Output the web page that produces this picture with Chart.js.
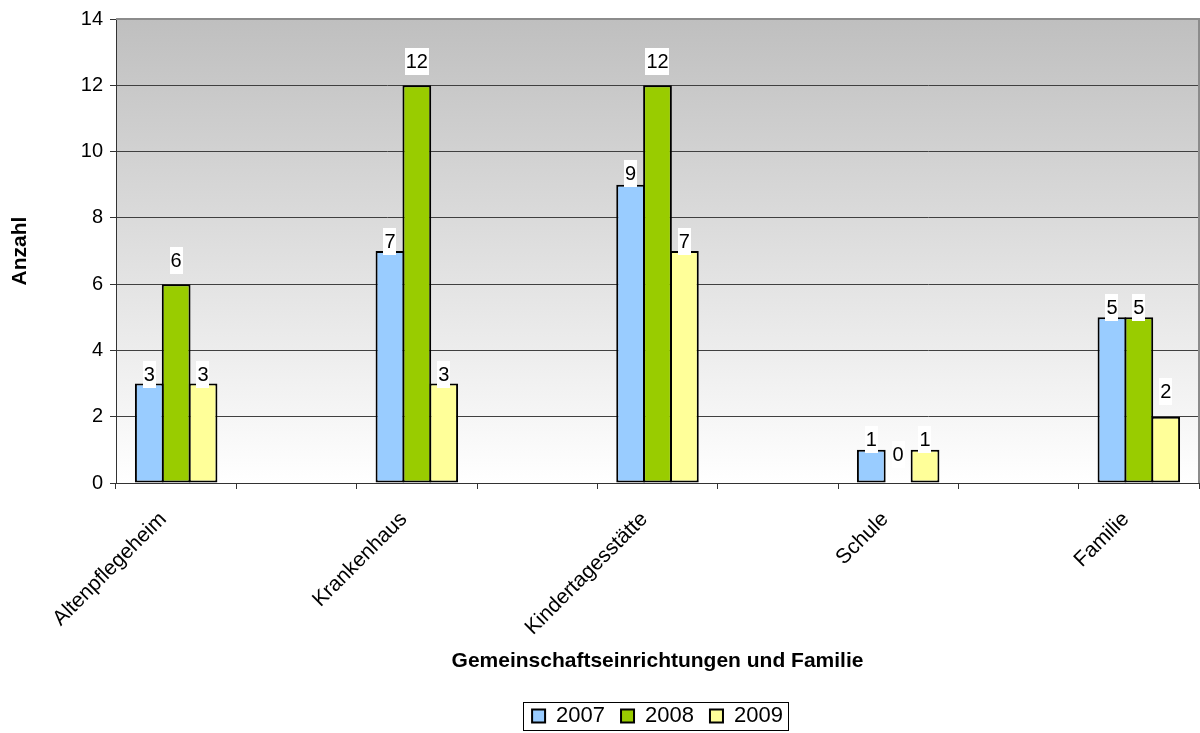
<!DOCTYPE html>
<html>
<head>
<meta charset="utf-8">
<script src="https://cdn.jsdelivr.net/npm/chart.js@4/dist/chart.umd.min.js"></script>
<style>
  html, body { margin: 0; padding: 0; background: #ffffff; }
  #wrap { width: 1200px; height: 733px; position: relative; }
</style>
</head>
<body>
<div id="wrap"><canvas id="c" width="1200" height="733"></canvas></div>
<script>
// Categories (empty slots keep the wide spacing between groups)
const categories = ['Altenpflegeheim', '', 'Krankenhaus', '', 'Kindertagesstätte', '', 'Schule', '', 'Familie'];

// Counts per year
const values2007 = [3, null, 7, null, 9, null, 1, null, 5];
const values2008 = [6, null, 12, null, 12, null, 0, null, 5];
const values2009 = [3, null, 3, null, 7, null, 1, null, 2];

const seriesNames = ['2007', '2008', '2009'];
const yTicks = [0, 2, 4, 6, 8, 10, 12, 14];

const FONT = "'Liberation Sans', Arial, Helvetica, sans-serif";
const AREA_TOP = 18, AREA_BOTTOM = 483, AREA_LEFT = 116;
const LEGEND_FONT = 22, LEGEND_PAD = 16, PAD_BOTTOM = -4;
// legend box height as Chart.js computes it for a single row
const LEGEND_H = LEGEND_FONT + LEGEND_PAD + 10;

// Vertical shift of each value box relative to the bar top (px, positive = above)
const labelRaise = [
  [-4, 0, -4, 0, -2, 0, -3, 0, -4],
  [10, 0, 10, 0, 10, 0, 15, 0, -4],
  [-4, 0, -4, 0, -4, 0, -3, 0, 12]
];

const plotBackground = {
  id: 'plotBackground',
  beforeDraw(chart) {
    const { ctx, chartArea: a } = chart;
    if (!a || !Number.isFinite(a.top) || !Number.isFinite(a.bottom)) return;
    const g = ctx.createLinearGradient(0, a.top, 0, a.bottom);
    g.addColorStop(0, '#bfbfbf');
    g.addColorStop(1, '#ffffff');
    ctx.save();
    ctx.fillStyle = g;
    ctx.fillRect(a.left, a.top, a.right - a.left, a.bottom - a.top);
    ctx.restore();
  },
  beforeDatasetsDraw(chart) {
    const { ctx, chartArea: a } = chart;
    ctx.save();
    ctx.strokeStyle = '#8c8c8c';
    ctx.lineWidth = 2;
    ctx.beginPath();
    ctx.moveTo(a.left, a.top);
    ctx.lineTo(a.right, a.top);
    ctx.lineTo(a.right, a.bottom);
    ctx.stroke();
    ctx.restore();
  }
};

const valueBoxes = {
  id: 'valueBoxes',
  afterDatasetsDraw(chart) {
    const { ctx } = chart;
    ctx.save();
    ctx.font = '20px ' + FONT;
    ctx.textAlign = 'center';
    ctx.textBaseline = 'middle';
    chart.data.datasets.forEach((ds, di) => {
      const meta = chart.getDatasetMeta(di);
      meta.data.forEach((bar, i) => {
        const v = ds.data[i];
        if (v === null || v === undefined) return;
        const txt = String(v);
        const w = ctx.measureText(txt).width + 2;
        const h = 27;
        const bottom = bar.y - labelRaise[di][i];
        ctx.fillStyle = '#ffffff';
        ctx.fillRect(Math.round(bar.x - w / 2), Math.round(bottom - h), Math.round(w), h);
        ctx.fillStyle = '#000000';
        ctx.fillText(txt, bar.x, bottom - h / 2 + 1);
      });
    });
    ctx.restore();
  }
};

const legendFrame = {
  id: 'legendFrame',
  afterDraw(chart) {
    const boxes = chart.legend && chart.legend.legendHitBoxes;
    if (!boxes || !boxes.length) return;
    let l = Infinity, r = -Infinity, t = Infinity, b = -Infinity;
    boxes.forEach(hb => {
      l = Math.min(l, hb.left); r = Math.max(r, hb.left + hb.width);
      t = Math.min(t, hb.top); b = Math.max(b, hb.top + hb.height);
    });
    const { ctx } = chart;
    ctx.save();
    ctx.strokeStyle = '#000000';
    ctx.lineWidth = 1;
    ctx.strokeRect(Math.round(l - 9) + 0.5, Math.round(t - 3) + 0.5, Math.round(r - l + 14), Math.round(b - t + 6));
    ctx.restore();
  }
};

new Chart(document.getElementById('c'), {
  type: 'bar',
  data: {
    labels: categories,
    datasets: [
      { label: seriesNames[0], data: values2007, backgroundColor: '#99ccff' },
      { label: seriesNames[1], data: values2008, backgroundColor: '#99cc00' },
      { label: seriesNames[2], data: values2009, backgroundColor: '#ffff99' }
    ].map(d => Object.assign(d, {
      borderColor: '#000000',
      borderWidth: 2,
      borderSkipped: false,
      categoryPercentage: 0.67,
      barPercentage: 1.07
    }))
  },
  options: {
    responsive: false,
    animation: false,
    devicePixelRatio: 1,
    layout: { padding: { top: AREA_TOP, right: 1, bottom: PAD_BOTTOM, left: 0 } },
    plugins: {
      legend: {
        position: 'bottom',
        fullSize: false,
        labels: {
          font: { family: FONT, size: LEGEND_FONT },
          color: '#000000',
          boxWidth: 13,
          boxHeight: 13,
          padding: LEGEND_PAD
        }
      },
      tooltip: { enabled: false }
    },
    scales: {
      x: {
        offset: true,
        grid: {
          display: true,
          offset: true,
          drawOnChartArea: false,
          drawTicks: true,
          tickLength: 6,
          color: '#333333'
        },
        border: { display: true, color: '#333333', width: 1 },
        ticks: {
          autoSkip: false,
          maxRotation: 45,
          minRotation: 45,
          color: '#000000',
          padding: 18,
          labelOffset: -13,
          font: { family: FONT, size: 21 }
        },
        title: {
          display: true,
          text: 'Gemeinschaftseinrichtungen und Familie',
          color: '#000000',
          font: { family: FONT, size: 21, weight: 'bold' },
          padding: { top: 0, bottom: 15 }
        },
        afterFit(scale) {
          scale.height = scale.chart.height - PAD_BOTTOM - LEGEND_H - AREA_BOTTOM;
        }
      },
      y: {
        min: 0,
        max: 14,
        afterBuildTicks(scale) {
          scale.ticks = yTicks.map(v => ({ value: v }));
        },
        grid: {
          color: ctx => (ctx.tick && ctx.tick.value === 14) ? 'rgba(0,0,0,0)' : '#404040',
          tickColor: '#333333',
          tickLength: 6,
          lineWidth: 1
        },
        border: { display: true, color: '#333333', width: 1 },
        ticks: {
          color: '#000000',
          padding: 7,
          font: { family: FONT, size: 20 }
        },
        title: {
          display: true,
          text: 'Anzahl',
          color: '#000000',
          font: { family: FONT, size: 21, weight: 'bold' },
          padding: { top: 8, bottom: 0 }
        },
        afterFit(scale) {
          scale.width = AREA_LEFT;
        }
      }
    }
  },
  plugins: [plotBackground, valueBoxes, legendFrame]
});
</script>
</body>
</html>
